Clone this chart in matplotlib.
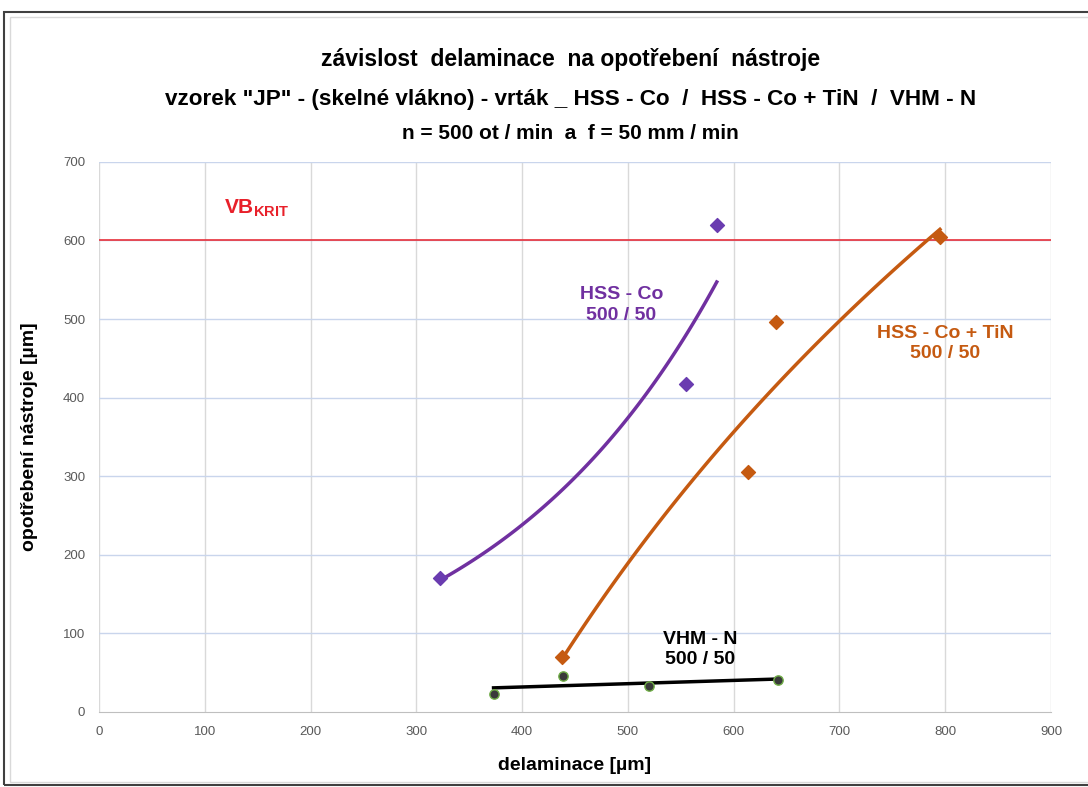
import matplotlib.pyplot as plt
import numpy as np
from matplotlib.patches import Rectangle

# naměřené hodnoty
hss_x = [322, 555, 584]
hss_y = [170, 417, 620]
tin_x = [438, 614, 640, 795]
tin_y = [70, 305, 496, 604]
vhm_x = [373, 439, 520, 642]
vhm_y = [23, 46, 33, 41]
vb_krit = 600

x_ticks = [0, 100, 200, 300, 400, 500, 600, 700, 800, 900]
y_ticks = [0, 100, 200, 300, 400, 500, 600, 700]

purple = '#7030A0'
orange = '#C55A11'

plt.rcParams['font.family'] = ['Liberation Sans', 'DejaVu Sans']

fig = plt.figure(figsize=(10.88, 7.87), dpi=100)
ax = fig.add_axes([0.091, 0.0953, 0.875, 0.699])

# rámeček kolem grafu
fig.patches.append(Rectangle((0.004, 0.002), 1.2, 0.983, transform=fig.transFigure,
                             fill=False, edgecolor='#404040', lw=1.5))
fig.patches.append(Rectangle((0.009, 0.006), 1.2, 0.972, transform=fig.transFigure,
                             fill=False, edgecolor='#d9d9d9', lw=1.0))

ax.set_xlim(0, 900)
ax.set_ylim(0, 700)
ax.set_xticks(x_ticks)
ax.set_yticks(y_ticks)
ax.tick_params(length=0, labelsize=9.5, colors='#595959', pad=10)
for s in ['top', 'right', 'left']:
    ax.spines[s].set_visible(False)
ax.spines['bottom'].set_color('#bfbfbf')

for xv in x_ticks:
    ax.axvline(xv, color='#d9d9d9', lw=1.0, zorder=0)
for yv in y_ticks[1:]:
    ax.axhline(yv, color='#c9d5ec', lw=1.0, zorder=0)

ax.axhline(vb_krit, color='#e8303a', lw=1.2, zorder=1)
ax.text(118, 641, r'VB$_{\mathregular{KRIT}}$', color='#e8202a', fontsize=15,
        fontweight='bold', ha='left', va='center')

# HSS - Co: exponenciální trend
b, a = np.polyfit(hss_x, np.log(hss_y), 1)
xs = np.linspace(min(hss_x), max(hss_x), 100)
ax.plot(xs, np.exp(a + b * xs), color=purple, lw=2.5, zorder=3)
ax.scatter(hss_x, hss_y, marker='D', s=50, color='#6a3cb0', zorder=4)

# HSS - Co + TiN: logaritmický trend
c1, c0 = np.polyfit(np.log(tin_x), tin_y, 1)
xs = np.linspace(min(tin_x), max(tin_x), 100)
ax.plot(xs, c1 * np.log(xs) + c0, color=orange, lw=2.5, zorder=3)
ax.scatter(tin_x, tin_y, marker='D', s=50, color=orange, zorder=4)

# VHM - N: lineární trend
k, q = np.polyfit(vhm_x, vhm_y, 1)
xs = np.array([min(vhm_x), max(vhm_x)])
ax.plot(xs, k * xs + q, color='black', lw=2.5, zorder=3)
ax.scatter(vhm_x, vhm_y, marker='o', s=45, color='#3a3a3a', edgecolor='#70AD47',
           lw=1, zorder=4)

lab = dict(fontsize=14, fontweight='bold', ha='center', va='center',
           linespacing=1.25)
ax.text(494, 518, 'HSS - Co\n500 / 50', color=purple, **lab)
ax.text(800, 469, 'HSS - Co + TiN\n500 / 50', color=orange, **lab)
ax.text(568, 80, 'VHM - N\n500 / 50', color='black', **lab)

ax.set_xlabel('delaminace [µm]', fontsize=14, fontweight='bold', labelpad=14)
ax.set_ylabel('opotřebení nástroje [µm]', fontsize=14, fontweight='bold', labelpad=18)

fig.text(0.524, 0.924, 'závislost  delaminace  na opotřebení  nástroje',
         fontsize=16.5, fontweight='bold', ha='center', va='center')
fig.text(0.524, 0.873, 'vzorek "JP" - (skelné vlákno) - vrták _ HSS - Co  /  HSS - Co + TiN  /  VHM - N',
         fontsize=16.2, fontweight='bold', ha='center', va='center')
fig.text(0.524, 0.831, 'n = 500 ot / min  a  f = 50 mm / min',
         fontsize=15, fontweight='bold', ha='center', va='center')

fig.savefig('out.png', dpi=100)
